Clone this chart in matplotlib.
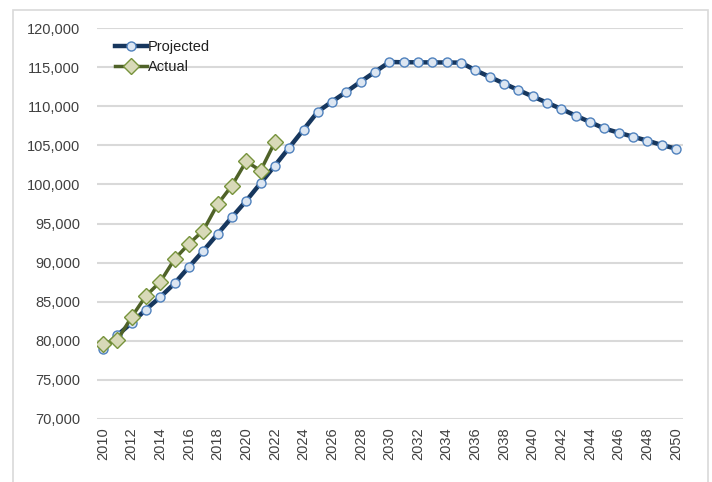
import matplotlib
matplotlib.use("Agg")
import matplotlib.pyplot as plt
from matplotlib.patches import Rectangle
from matplotlib.ticker import FuncFormatter

years_projected = list(range(2010, 2051))
projected = [79000, 80700, 82300, 84000, 85600, 87350, 89450, 91500, 93650, 95800,
             97900, 100150, 102400, 104700, 107000, 109300, 110600, 111850, 113150, 114400,
             115650, 115620, 115610, 115600, 115590, 115570, 114600, 113750, 112900, 112070,
             111250, 110450, 109650, 108800, 107980, 107150, 106620, 106100, 105600, 105050,
             104570]
years_actual = list(range(2010, 2023))
actual = [79550, 80100, 83050, 85750, 87550, 90450, 92400, 94100, 97450, 99850,
          102950, 101750, 105400]
xtick_years = list(range(2010, 2051, 2))
ytick_values = list(range(70000, 120001, 5000))

plt.rcParams['font.family'] = ['Liberation Sans', 'DejaVu Sans']

fig = plt.figure(figsize=(7.12, 4.82), dpi=100)
ax = fig.add_axes([97/712, 1-419/482, (683-97)/712, (419-28)/482])

# outer border
fig.patches.append(Rectangle((13/712, -0.1), (708-13)/712, 1.1 - 10/482,
                             transform=fig.transFigure, fill=False,
                             edgecolor='#d9d9d9', linewidth=1.2, zorder=0))

ax.plot(years_projected, projected, color='#17375E', linewidth=3.2,
        marker='o', markersize=6.5, markerfacecolor='#DCE6F2',
        markeredgecolor='#4F81BD', markeredgewidth=1.0, label='Projected', zorder=3)
ax.plot(years_actual, actual, color='#4F6228', linewidth=2.5,
        marker='D', markersize=8, markerfacecolor='#D8D9B8',
        markeredgecolor='#77933C', markeredgewidth=1.0, label='Actual', zorder=4)

ax.set_xlim(2009.58, 2050.5)
ax.set_ylim(70000, 120000)
ax.set_yticks(ytick_values)
ax.yaxis.set_major_formatter(FuncFormatter(lambda v, p: f"{int(v):,}"))
ax.set_xticks(xtick_years)
ax.set_xticklabels([str(y) for y in xtick_years], rotation=90)

ax.grid(axis='y', color='#d9d9d9', linewidth=1.5)
ax.set_axisbelow(True)
for s in ax.spines.values():
    s.set_visible(False)
ax.tick_params(axis='both', length=0, labelsize=10.5, colors='#404040')
ax.tick_params(axis='y', pad=12)
ax.tick_params(axis='x', pad=6)

leg = ax.legend(loc='upper left', bbox_to_anchor=(0.02, 0.985), frameon=False,
                fontsize=10.5, handlelength=2.2, handletextpad=0.1,
                labelspacing=0.45, borderaxespad=0)
for t in leg.get_texts():
    t.set_color('#202020')

fig.savefig('out.png', dpi=100)
